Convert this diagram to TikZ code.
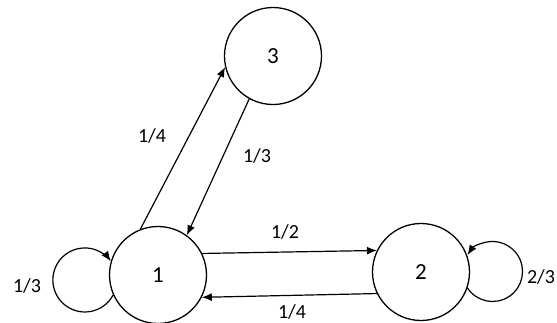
\documentclass[tikz,border=0pt]{standalone}
\usepackage{fontspec}
\setmainfont{Carlito}
\usetikzlibrary{arrows.meta}
\begin{document}
\begin{tikzpicture}[x=1pt,y=1pt,
  state/.style={circle,draw,line width=1.3pt,minimum size=97pt,inner sep=0pt,font=\fontsize{23}{23}\selectfont},
  edge/.style={line width=1.2pt,-{Latex[length=10pt,width=8pt]}},
  lbl/.style={font=\fontsize{20}{20}\selectfont,inner sep=0pt}]
\useasboundingbox (0,-322) rectangle (557,0);
\clip (0,-322) rectangle (557,0);
\node[state] (n1) at (158,-275) {1};
\node[state] (n2) at (421,-272) {2};
\node[state] (n3) at (273,-56) {3};
% edges
\draw[edge] (n1.111) -- (n3.193);
\draw[edge] (n3.241) -- (n1.54);
\draw[edge] (n1.26) -- (n2.154);
\draw[edge] (n2.206.6) -- (n1.333.4);
% self loops
\draw[edge] (n1.204) arc[start angle=-28, end angle=-324.2, radius=32pt];
\draw[edge] (n2.-19.7) arc[start angle=213.4, end angle=506.6, radius=30pt];
% labels
\node[lbl] (l13) at (152,-136) {1/4};
\node[lbl] (l31) at (257,-156) {1/3};
\node[lbl] (l12) at (285,-232) {1/2};
\node[lbl] (l21) at (292,-312) {1/4};
\node[lbl] (l11) at (27,-286) {1/3};
\node[lbl] (l22) at (541,-277) {2/3};
\end{tikzpicture}
\end{document}
